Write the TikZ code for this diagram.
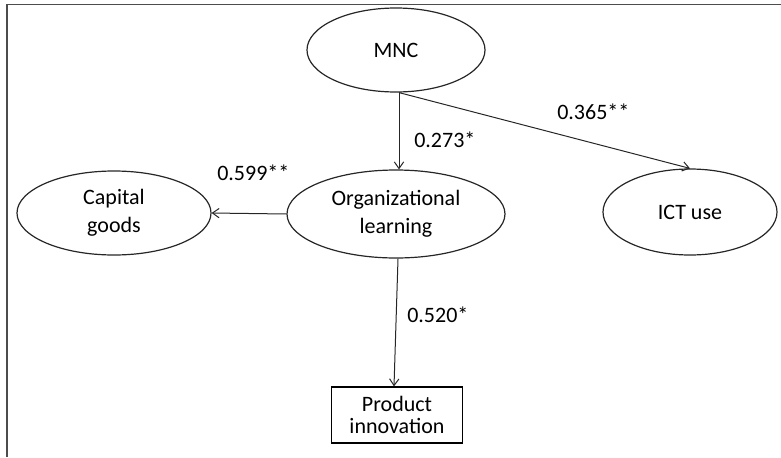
\documentclass[tikz,border=0pt]{standalone}
\usepackage{fontspec}
\setmainfont{Carlito}
\usetikzlibrary{arrows.meta,shapes.geometric,calc}
\tikzset{
  ell/.style={ellipse,draw=black!85,line width=0.9pt,inner sep=0pt,align=center,
    font=\fontsize{16.5}{21}\selectfont},
  box/.style={rectangle,draw=black,line width=0.9pt,inner sep=0pt,align=center,
    font=\fontsize{16.5}{17}\selectfont},
  lab/.style={anchor=west,inner sep=0pt,font=\fontsize{16.5}{20}\selectfont},
  conn/.style={draw=black!85,line width=0.75pt,-{Straight Barb[length=5pt,width=7pt]}},
  frame/.style={draw=black!70,line width=0.9pt}
}
\begin{document}
\begin{tikzpicture}[x=0.75pt,y=-0.75pt]
\useasboundingbox (0,0) rectangle (781,457);
\coordinate (fa) at (7,457);
\coordinate (fb) at (7,4.5);
\coordinate (fc) at (781,4.5);
\draw[frame] (fa) -- (fb) -- (fc);

\node[ell,minimum width=133.5pt,minimum height=63pt] (mnc) at (396,50) {MNC};
\node[ell,minimum width=163.5pt,minimum height=66pt] (org) at (396,214) {Organizational\\learning};
\node[ell,minimum width=145.5pt,minimum height=63pt] (cap) at (114,213) {Capital\\goods};
\node[ell,minimum width=130.5pt,minimum height=64.5pt] (ict) at (690,212) {ICT use};
\node[box,minimum width=98.25pt,minimum height=42pt] (prod) at (397,415) {Product\\innovation};

\draw[conn] ($(mnc.south)+(3,0)$) -- ($(org.north)+(3,0)$);
\draw[conn] ($(mnc.south)+(3,0)$) -- (ict.north);
\draw[conn] (org.west) -- (cap.east);
\draw[conn] ($(org.south)+(2,0)$) -- ($(prod.north)+(-3,0)$);

\node[lab] (l1) at (414,140) {0.273*};
\node[lab] (l2) at (557,112) {0.365**};
\node[lab] (l3) at (217,173) {0.599**};
\node[lab] (l4) at (407,315) {0.520*};
\end{tikzpicture}
\end{document}
